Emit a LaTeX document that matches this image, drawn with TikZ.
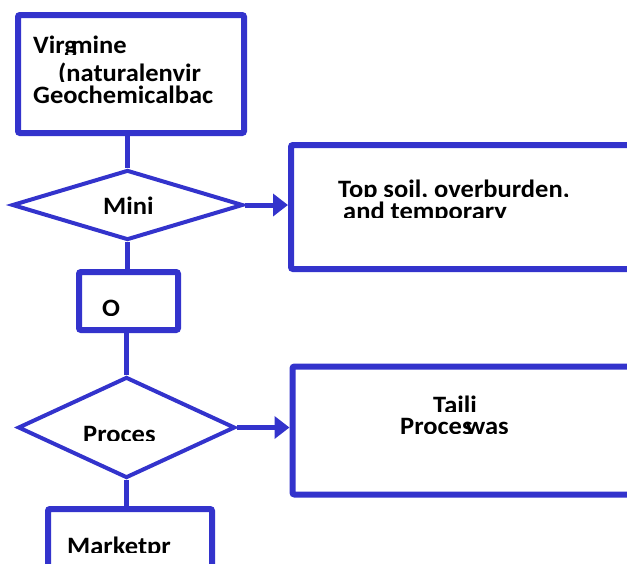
\documentclass[tikz,border=0pt]{standalone}
\usepackage{fontspec}
\setmainfont[FakeStretch=1.06]{Carlito}
\usetikzlibrary{arrows.meta,shapes.geometric}
\definecolor{fb}{RGB}{51,51,204}
\newcommand\cliplbl[5]{%
  \begin{scope}
    \clip (#2-10,#3-40) rectangle (#2+400,#4);
    \node[lbl] (#1) at (#2,#3) {#5};
  \end{scope}}
\begin{document}
\begin{tikzpicture}[x=1pt,y=-1pt,
  box/.style={draw=fb, line width=6pt, rounded corners=2pt, inner sep=0pt},
  dia/.style={draw=fb, line width=4pt, diamond, inner sep=0pt},
  conn/.style={draw=fb, line width=5pt},
  arr/.style={conn, -{Triangle[length=15pt,width=22pt]}},
  lbl/.style={font=\bfseries\fontsize{25}{28}\selectfont, anchor=base west, inner sep=0pt}]
\useasboundingbox (0,0) rectangle (627,563);
\clip (0,0) rectangle (627,563);
% shapes
\node[box, minimum width=226pt, minimum height=118pt] (b1) at (131,74) {};
\node[dia, minimum width=231pt, minimum height=70pt] (d1) at (127.5,205) {};
\node[box, minimum width=346pt, minimum height=124pt] (b2) at (464,207) {};
\node[box, minimum width=99pt, minimum height=58pt] (bo) at (128.5,301) {};
\node[dia, minimum width=217pt, minimum height=101pt] (d2) at (126.5,427.5) {};
\node[box, minimum width=348pt, minimum height=128pt] (b3) at (466.5,430.5) {};
\node[box, minimum width=164pt, minimum height=91pt] (b4) at (130,554.5) {};
% connectors
\draw[conn] (d1.north) -- (d1.north |- b1.south);
\draw[conn] (d1.south) -- (d1.south |- bo.north);
\draw[conn] (d2.north) -- (d2.north |- bo.south);
\draw[conn] (d2.south) -- (d2.south |- b4.north);
\draw[arr] (d1.east) -- (d1.east -| b2.west);
\draw[arr] (d2.east) -- (d2.east -| b3.west);
% labels
\cliplbl{t1}{33}{53}{54}{Virg\kern-6pt mine}
\cliplbl{t2}{58}{81}{81}{(naturalenvir}
\cliplbl{t3}{33}{103}{103}{Geochemicalbac}
\cliplbl{t4}{103}{214}{225}{Mini}
\cliplbl{t5}{338}{197}{196}{Top soil, overburden,}
\cliplbl{t6}{343}{219}{217}{and temporary}
\cliplbl{t7}{102}{316}{315}{O}
\cliplbl{t8}{83}{442}{440}{Proces}
\cliplbl{t9}{433}{413}{411}{Taili}
\cliplbl{t10}{400}{434}{433}{Proces\kern-7pt was}
\cliplbl{t11}{67}{554}{552}{Marketpr}
\end{tikzpicture}
\end{document}
